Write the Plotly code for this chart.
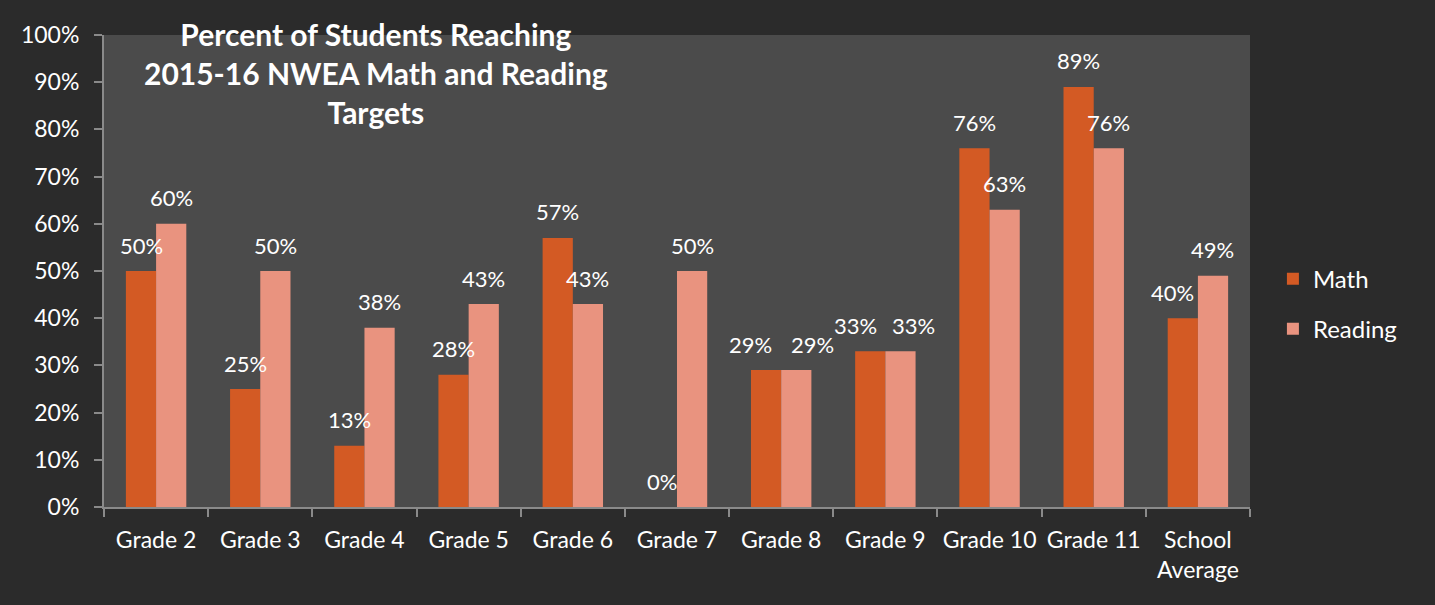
import plotly.graph_objects as go

categories = ["Grade 2", "Grade 3", "Grade 4", "Grade 5", "Grade 6", "Grade 7",
              "Grade 8", "Grade 9", "Grade 10", "Grade 11", "School<br>Average"]
math_vals = [0.50, 0.25, 0.13, 0.28, 0.57, 0.00, 0.29, 0.33, 0.76, 0.89, 0.40]
reading_vals = [0.60, 0.50, 0.38, 0.43, 0.43, 0.50, 0.29, 0.33, 0.63, 0.76, 0.49]
y_ticks = [0, 0.1, 0.2, 0.3, 0.4, 0.5, 0.6, 0.7, 0.8, 0.9, 1.0]
y_tick_labels = [f"{int(round(v*100))}%" for v in y_ticks]

# extra horizontal nudges of data labels (pixels), as placed in the original
math_label_nudge = [0, 0, 0, 0, 0, 0, -16, -15, 0, 0, -10]
reading_label_nudge = [0, 0, 0, 0, 0, 0, 16, 13, 0, 0, 0]

FONT = "Lato"
MATH_COLOR = "#d35a24"
READ_COLOR = "#e9937f"

fig = go.Figure()
fig.add_trace(go.Bar(
    name="Math", x=categories, y=math_vals, legendgroup="m",
    marker=dict(color=MATH_COLOR, line=dict(width=0)),
))
fig.add_trace(go.Bar(
    name="Reading", x=categories, y=reading_vals, legendgroup="r",
    marker=dict(color=READ_COLOR, line=dict(width=0)),
))

BAR_OFF = 15  # half of bar width in px (group of two bars)
for i, c in enumerate(categories):
    fig.add_annotation(x=c, y=math_vals[i], text=f"{int(round(math_vals[i]*100))}%",
                       showarrow=False, xanchor="center", yanchor="middle",
                       xshift=-BAR_OFF + math_label_nudge[i], yshift=26,
                       font=dict(size=22, color="white", family=FONT))
    fig.add_annotation(x=c, y=reading_vals[i], text=f"{int(round(reading_vals[i]*100))}%",
                       showarrow=False, xanchor="center", yanchor="middle",
                       xshift=BAR_OFF + reading_label_nudge[i], yshift=26,
                       font=dict(size=22, color="white", family=FONT))

fig.update_layout(
    width=1435, height=605,
    paper_bgcolor="#2b2b2b", plot_bgcolor="#4b4b4b",
    margin=dict(l=104, r=185, t=35, b=98, autoexpand=False),
    barmode="group", bargap=0.42, bargroupgap=0,
    font=dict(family=FONT, color="white", size=20),
    showlegend=True,
    legend=dict(x=1.02, y=0.43, xanchor="left", yanchor="middle",
                font=dict(size=24, color="white", family=FONT),
                traceorder="grouped", tracegroupgap=16,
                bgcolor="rgba(0,0,0,0)", itemsizing="constant"),
)
fig.update_yaxes(
    range=[0, 1.0], tickvals=y_ticks, ticktext=y_tick_labels,
    showgrid=False, zeroline=False, automargin=False,
    showline=True, linecolor="#8a8a8a", linewidth=2,
    ticks="outside", tickcolor="#8a8a8a", ticklen=8, tickwidth=2,
    ticklabelstandoff=10,
    tickfont=dict(size=23, color="white", family=FONT),
)
fig.update_xaxes(
    showgrid=False, showline=True, linecolor="#8a8a8a", linewidth=2, automargin=False,
    ticks="outside", tickson="boundaries", tickcolor="#8a8a8a", ticklen=8, tickwidth=2,
    ticklabelstandoff=11, tickangle=0,
    tickfont=dict(size=23, color="white", family=FONT),
)
fig.add_annotation(
    text="<b>Percent of Students Reaching<br>2015-16 NWEA Math and Reading<br>Targets</b>",
    xref="paper", yref="paper", x=0.237, y=1.045, xanchor="center", yanchor="top",
    showarrow=False, font=dict(size=30, color="white", family=FONT), align="center",
)

fig.write_html("out.html")
